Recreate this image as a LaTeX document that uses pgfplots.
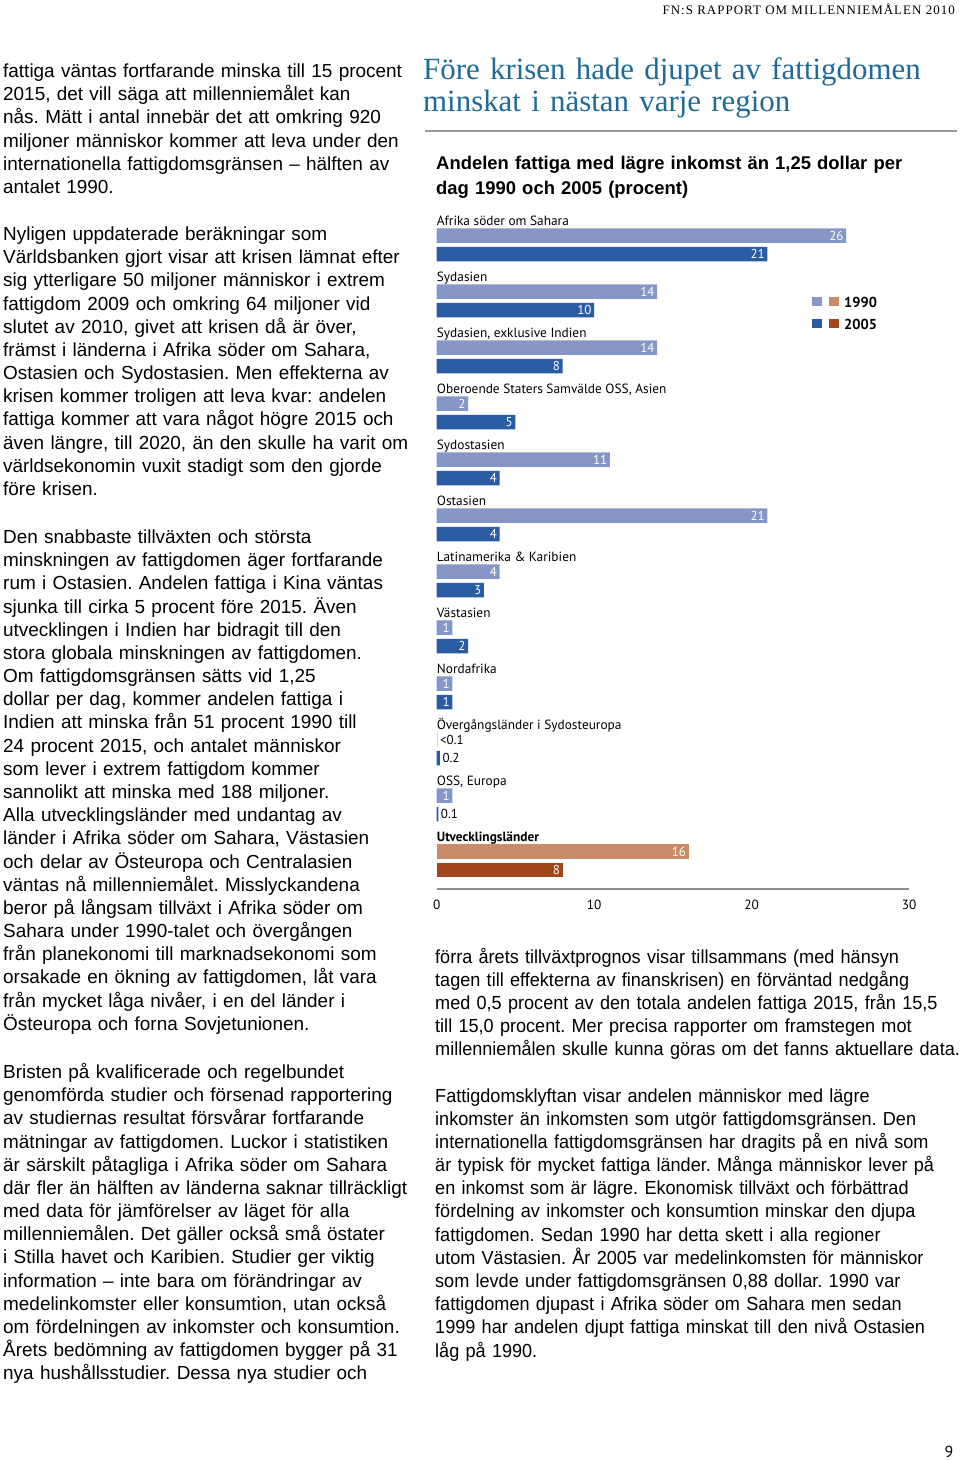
\documentclass[border=0pt]{standalone}
\usepackage{pgfplots}
\pgfplotsset{compat=1.18}
\usepackage{pgfplotstable}
\usepackage{fontspec}
\setmainfont{Liberation Sans}
\newfontfamily\rightfont[FakeStretch=0.955]{Liberation Sans}
\newfontfamily\serifx{Liberation Serif}
\newfontfamily\headfont[LetterSpace=8]{Liberation Serif}
\newfontfamily\chartfont{PT Sans}
\definecolor{cA}{HTML}{8697C7}
\definecolor{cB}{HTML}{2A5CA3}
\definecolor{oA}{HTML}{C88C69}
\definecolor{oB}{HTML}{A0461A}
\definecolor{titlec}{HTML}{1F6A96}

\pgfplotstableread{
y v lab
235.5 26 26
291.5 14 14
347.5 14 14
403.5 2 2
459.5 11 11
515.5 21 21
571.5 4 4
627.5 1 1
683.5 1 1
795.5 1 1
}\blueA
\pgfplotstableread{
y v lab
254 21 21
310 10 10
366 8 8
422 5 5
478 4 4
534 4 4
590 3 3
646 2 2
702 1 1
}\blueB
\pgfplotstableread{
y v lab
739.5 0.05 <0.1
}\smallA
\pgfplotstableread{
y v lab
758 0.2 0.2
814 0.1 0.1
}\smallB
\pgfplotstableread{
y v lab
851.5 16 16
}\devA
\pgfplotstableread{
y v lab
870 8 8
}\devB

\tikzset{body/.style={anchor=base west, inner sep=0pt, text width=560bp, align=left, font=\frenchspacing\fontsize{19.0}{23.27}\selectfont}}

\begin{document}
\frenchspacing
\begin{tikzpicture}[x=1bp,y=-1bp]
\fill[white] (0,0) rectangle (960,1460);
\path[use as bounding box] (0,0) rectangle (960,1460);

% header
\node[anchor=base east, inner sep=0pt, font=\headfont\fontsize{13}{13}\selectfont] at (955,15) {FN:S RAPPORT OM MILLENNIEMÅLEN 2010};

% left column
\node[body] at (3,77.5) {fattiga väntas fortfarande minska till 15 procent\\
2015, det vill säga att millenniemålet kan\\
nås. Mätt i antal innebär det att omkring 920\\
miljoner människor kommer att leva under den\\
internationella fattigdomsgränsen – hälften av\\
antalet 1990.};

\node[body] at (3,240.5) {Nyligen uppdaterade beräkningar som\\
Världsbanken gjort visar att krisen lämnat efter\\
sig ytterligare 50 miljoner människor i extrem\\
fattigdom 2009 och omkring 64 miljoner vid\\
slutet av 2010, givet att krisen då är över,\\
främst i länderna i Afrika söder om Sahara,\\
Ostasien och Sydostasien. Men effekterna av\\
krisen kommer troligen att leva kvar: andelen\\
fattiga kommer att vara något högre 2015 och\\
även längre, till 2020, än den skulle ha varit om\\
världsekonomin vuxit stadigt som den gjorde\\
före krisen.};

\node[body] at (3,543.5) {Den snabbaste tillväxten och största\\
minskningen av fattigdomen äger fortfarande\\
rum i Ostasien. Andelen fattiga i Kina väntas\\
sjunka till cirka 5 procent före 2015. Även\\
utvecklingen i Indien har bidragit till den\\
stora globala minskningen av fattigdomen.\\
Om fattigdomsgränsen sätts vid 1,25\\
dollar per dag, kommer andelen fattiga i\\
Indien att minska från 51 procent 1990 till\\
24 procent 2015, och antalet människor\\
som lever i extrem fattigdom kommer\\
sannolikt att minska med 188 miljoner.\\
Alla utvecklingsländer med undantag av\\
länder i Afrika söder om Sahara, Västasien\\
och delar av Östeuropa och Centralasien\\
väntas nå millenniemålet. Misslyckandena\\
beror på långsam tillväxt i Afrika söder om\\
Sahara under 1990-talet och övergången\\
från planekonomi till marknadsekonomi som\\
orsakade en ökning av fattigdomen, låt vara\\
från mycket låga nivåer, i en del länder i\\
Östeuropa och forna Sovjetunionen.};

\node[body] at (3,1078.5) {Bristen på kvalificerade och regelbundet\\
genomförda studier och försenad rapportering\\
av studiernas resultat försvårar fortfarande\\
mätningar av fattigdomen. Luckor i statistiken\\
är särskilt påtagliga i Afrika söder om Sahara\\
där fler än hälften av länderna saknar tillräckligt\\
med data för jämförelser av läget för alla\\
millenniemålen. Det gäller också små östater\\
i Stilla havet och Karibien. Studier ger viktig\\
information – inte bara om förändringar av\\
medelinkomster eller konsumtion, utan också\\
om fördelningen av inkomster och konsumtion.\\
Årets bedömning av fattigdomen bygger på 31\\
nya hushållsstudier. Dessa nya studier och};

% right column title
\node[anchor=base west, inner sep=0pt, text width=560bp, align=left, text=titlec, font=\serifx\fontsize{31}{31.7}\selectfont] at (423,80) {Före krisen hade djupet av fattigdomen\\
minskat i nästan varje region};
\draw[black!40, line width=2bp] (425,131) -- (957,131);
\node[anchor=base west, inner sep=0pt, text width=560bp, align=left, font=\bfseries\fontsize{18.5}{25}\selectfont] at (436,170) {Andelen fattiga med lägre inkomst än 1,25 dollar per\\
dag 1990 och 2005 (procent)};

% legend
\fill[cA] (812,297) rectangle (821.5,306);
\fill[oA] (829,297) rectangle (838.5,306);
\fill[cB] (812,319) rectangle (821.5,328);
\fill[oB] (829,319) rectangle (838.5,328);
\node[anchor=base west, inner sep=0pt, font=\chartfont\bfseries\fontsize{14.5}{14.5}\selectfont] at (844,307.5) {1990};
\node[anchor=base west, inner sep=0pt, font=\chartfont\bfseries\fontsize{14.5}{14.5}\selectfont] at (844,329.5) {2005};

\begin{axis}[
  at={(436.7bp,-889bp)}, anchor=south west,
  scale only axis, width=472.5bp, height=684bp,
  xmin=0, xmax=30, ymin=205, ymax=889, y dir=reverse,
  axis y line=none, axis x line=bottom,
  x axis line style={-, draw=black!45, line width=1.3bp},
  xtick={0,10,20,30}, ytick=\empty, major tick length=0pt,
  xticklabel style={font=\chartfont\fontsize{13.4}{13.4}\selectfont, text=black, yshift=-7bp},
  /pgf/number format/assume math mode=true,
  clip=false, xbar, bar width=14.5, bar shift=0pt,
  point meta=explicit symbolic,
  every node near coord/.append style={font=\chartfont\fontsize{13}{13}\selectfont, inner sep=2.5bp},
]
\addplot[fill=cA, draw=none, nodes near coords, nodes near coords style={anchor=east, text=white}] table[x=v, y=y, meta=lab] {\blueA};
\addplot[fill=cB, draw=none, nodes near coords, nodes near coords style={anchor=east, text=white}] table[x=v, y=y, meta=lab] {\blueB};
\addplot[fill=cA!40, draw=none, nodes near coords, nodes near coords style={anchor=west, text=black}] table[x=v, y=y, meta=lab] {\smallA};
\addplot[fill=cB, draw=none, nodes near coords, nodes near coords style={anchor=west, text=black}] table[x=v, y=y, meta=lab] {\smallB};
\addplot[fill=oA, draw=none, nodes near coords, nodes near coords style={anchor=east, text=white}] table[x=v, y=y, meta=lab] {\devA};
\addplot[fill=oB, draw=none, nodes near coords, nodes near coords style={anchor=east, text=white}] table[x=v, y=y, meta=lab] {\devB};

\begin{scope}[every node/.style={anchor=base west, inner sep=0pt, font=\chartfont\fontsize{13.4}{13.4}\selectfont}]
\node at (axis cs:0,225) {Afrika söder om Sahara};
\node at (axis cs:0,281) {Sydasien};
\node at (axis cs:0,337) {Sydasien, exklusive Indien};
\node at (axis cs:0,393) {Oberoende Staters Samvälde OSS, Asien};
\node at (axis cs:0,449) {Sydostasien};
\node at (axis cs:0,505) {Ostasien};
\node at (axis cs:0,561) {Latinamerika \& Karibien};
\node at (axis cs:0,617) {Västasien};
\node at (axis cs:0,673) {Nordafrika};
\node at (axis cs:0,729) {Övergångsländer i Sydosteuropa};
\node at (axis cs:0,785) {OSS, Europa};
\node[font=\chartfont\bfseries\fontsize{13.4}{13.4}\selectfont] at (axis cs:0,841) {Utvecklingsländer};
\end{scope}
\end{axis}

% right column body
\tikzset{rbody/.style={body, text width=600bp, font=\rightfont\frenchspacing\fontsize{19.0}{23.27}\selectfont}}
\node[rbody] at (435,963) {förra årets tillväxtprognos visar tillsammans (med hänsyn\\
tagen till effekterna av finanskrisen) en förväntad nedgång\\
med 0,5 procent av den totala andelen fattiga 2015, från 15,5\\
till 15,0 procent. Mer precisa rapporter om framstegen mot\\
millenniemålen skulle kunna göras om det fanns aktuellare data.};

\node[rbody] at (435,1102) {Fattigdomsklyftan visar andelen människor med lägre\\
inkomster än inkomsten som utgör fattigdomsgränsen. Den\\
internationella fattigdomsgränsen har dragits på en nivå som\\
är typisk för mycket fattiga länder. Många människor lever på\\
en inkomst som är lägre. Ekonomisk tillväxt och förbättrad\\
fördelning av inkomster och konsumtion minskar den djupa\\
fattigdomen. Sedan 1990 har detta skett i alla regioner\\
utom Västasien. År 2005 var medelinkomsten för människor\\
som levde under fattigdomsgränsen 0,88 dollar. 1990 var\\
fattigdomen djupast i Afrika söder om Sahara men sedan\\
1999 har andelen djupt fattiga minskat till den nivå Ostasien\\
låg på 1990.};

\node[anchor=base, inner sep=0pt, font=\chartfont\fontsize{16}{16}\selectfont] at (949,1457) {9};
\end{tikzpicture}
\end{document}
